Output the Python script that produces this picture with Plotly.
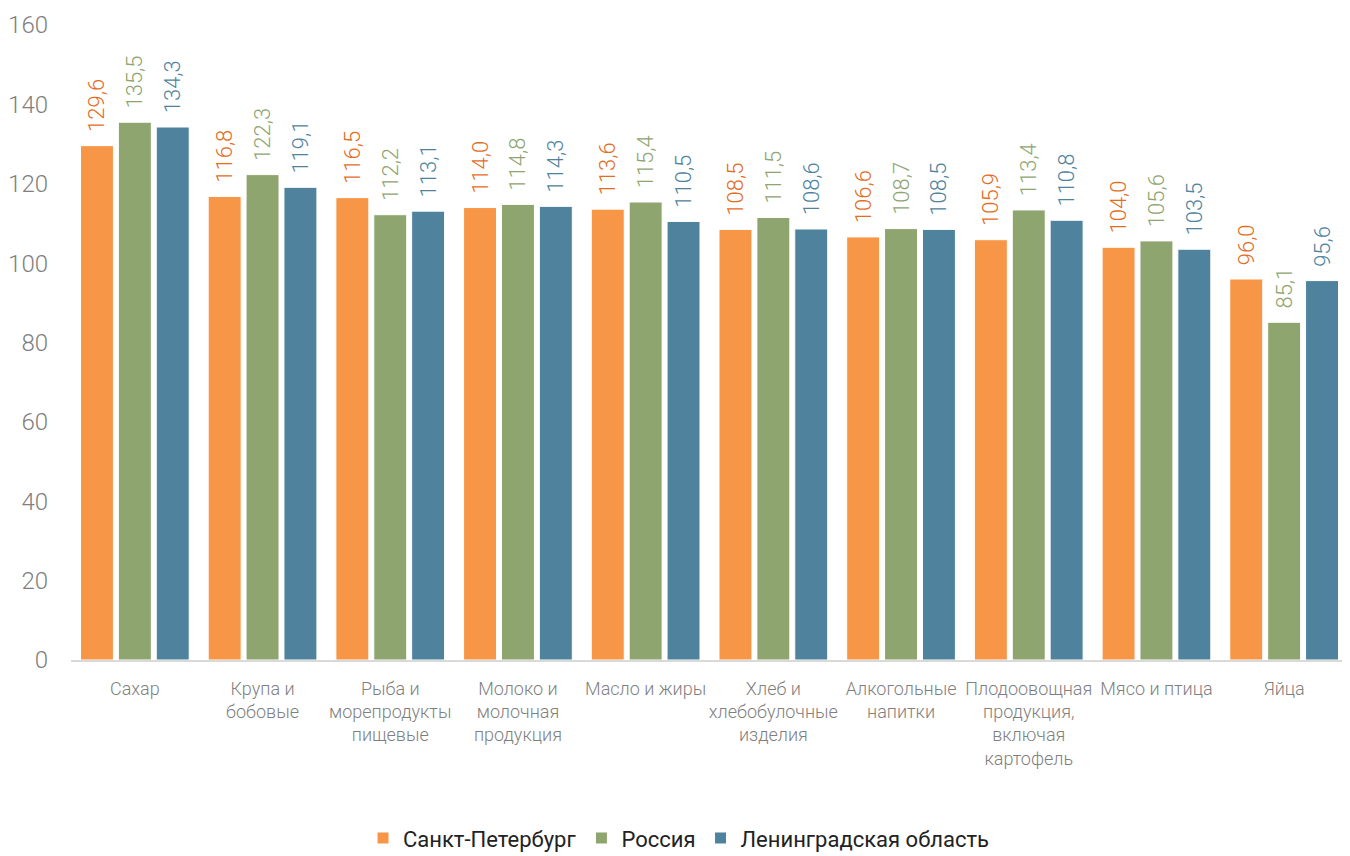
import plotly.graph_objects as go

categories = ["Сахар", "Крупа и<br>бобовые", "Рыба и<br>морепродукты<br>пищевые",
              "Молоко и<br>молочная<br>продукция", "Масло и жиры", "Хлеб и<br>хлебобулочные<br>изделия",
              "Алкогольные<br>напитки", "Плодоовощная<br>продукция,<br>включая<br>картофель",
              "Мясо и птица", "Яйца"]
spb = [129.6, 116.8, 116.5, 114.0, 113.6, 108.5, 106.6, 105.9, 104.0, 96.0]
russia = [135.5, 122.3, 112.2, 114.8, 115.4, 111.5, 108.7, 113.4, 105.6, 85.1]
lenobl = [134.3, 119.1, 113.1, 114.3, 110.5, 108.6, 108.5, 110.8, 103.5, 95.6]

series = [
    ("Санкт-Петербург", spb, "#F79646", "#E46C1E"),
    ("Россия", russia, "#8FA56F", "#8FA56F"),
    ("Ленинградская область", lenobl, "#4F839D", "#4F839D"),
]

FONT = "Roboto, sans-serif"
fig = go.Figure()
for name, vals, col, tcol in series:
    fig.add_trace(go.Bar(
        x=categories, y=vals, name=name,
        marker=dict(color=col, line=dict(color="white", width=1)),
        texttemplate="\u00a0\u00a0%{y:.1f}", textposition="outside", textangle=-90,
        constraintext="none",
        textfont=dict(color=tcol, size=22, family=FONT, weight=300),
        cliponaxis=False,
    ))

fig.update_layout(
    width=1342, height=848,
    barmode="group", bargap=0.11, bargroupgap=0.13,
    separators=", ",
    plot_bgcolor="white", paper_bgcolor="white",
    margin=dict(l=63, r=2, t=17, b=196, autoexpand=False),
    font=dict(family=FONT),
    legend=dict(orientation="h", x=0.5, xanchor="center", xref="container",
                y=0.021, yanchor="middle", yref="container",
                font=dict(size=22, color="#222", family=FONT), traceorder="normal"),
    showlegend=True,
)
fig.update_yaxes(range=[0, 160], dtick=20, showgrid=False, zeroline=False,
                 tickfont=dict(size=24, color="#7f7f7f", family=FONT, weight=300), ticks="",
                 ticklabelstandoff=22)
fig.update_xaxes(showline=True, linecolor="#d9d9d9", linewidth=2, ticks="",
                 tickfont=dict(size=18, color="#7f7f7f", family=FONT, weight=300), tickangle=0,
                 ticklabelstandoff=11)
fig.write_html("out.html")
